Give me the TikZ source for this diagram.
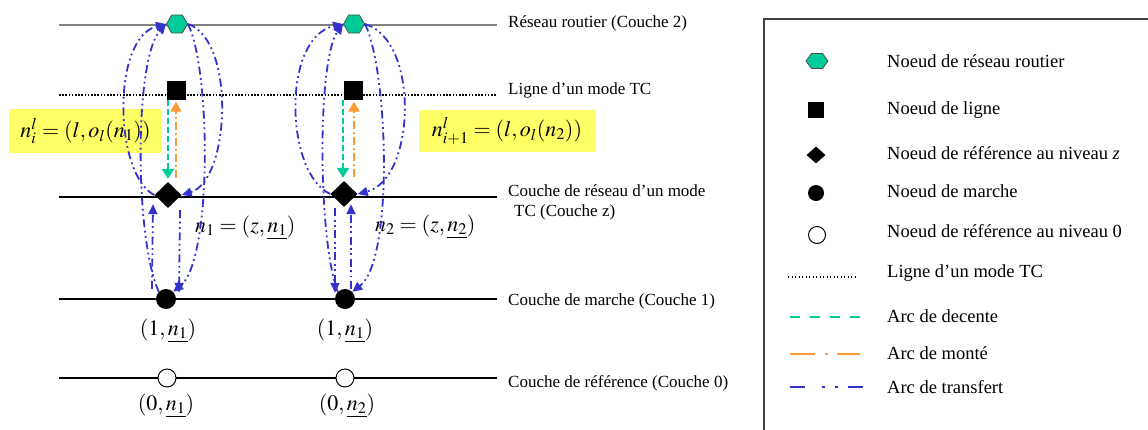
\documentclass[tikz,border=0pt]{standalone}
\usepackage{mathptmx}
\usepackage[no-math]{fontspec}
\setmainfont{Liberation Serif}
\usetikzlibrary{arrows.meta,shapes.geometric}
\definecolor{hexgreen}{RGB}{0,204,153}
\definecolor{tblue}{RGB}{51,51,204}
\definecolor{morange}{RGB}{255,153,51}
\definecolor{hlyellow}{RGB}{255,255,102}
\definecolor{roadgray}{RGB}{128,128,128}
\tikzset{
  layer/.style={line width=2pt,black},
  roadlayer/.style={line width=2pt,roadgray},
  tcline/.style={line width=1.6pt,black,dash pattern=on 1.6pt off 1.6pt},
  hexn/.style={regular polygon,regular polygon sides=6,minimum size=21pt,inner sep=0pt,fill=hexgreen,draw=black!70,line width=0.8pt},
  sqn/.style={rectangle,fill=black,minimum size=19pt,inner sep=0pt},
  dian/.style={diamond,fill=black,minimum width=27pt,minimum height=26pt,inner sep=0pt},
  walkn/.style={circle,fill=black,minimum size=20pt,inner sep=0pt},
  refn/.style={circle,draw=black,fill=white,line width=1pt,minimum size=18pt,inner sep=0pt},
  transfer/.style={tblue,line width=1.8pt,dash pattern=on 8pt off 3.5pt on 1.8pt off 3.5pt on 1.8pt off 3.5pt,-{Triangle[length=10pt,width=9pt]}},
  descent/.style={hexgreen,line width=2.2pt,dash pattern=on 6pt off 3pt,-{Triangle[length=10pt,width=12pt]}},
  ascent/.style={morange,line width=2.2pt,dash pattern=on 8pt off 3pt on 2pt off 3pt,-{Triangle[length=10pt,width=11pt]}},
  laylabel/.style={anchor=west,inner sep=0pt,font=\fontsize{17}{20.5}\selectfont,align=left},
  leglabel/.style={anchor=west,inner sep=0pt,font=\fontsize{18.5}{22}\selectfont},
  mathlabel/.style={inner sep=0pt,font=\fontsize{22}{26}\selectfont},
  hlbox/.style={fill=hlyellow,inner sep=0pt,font=\fontsize{22}{26}\selectfont}
}
\begin{document}
\begin{tikzpicture}[x=1pt,y=-1pt]
\useasboundingbox (0,0) rectangle (1148,429);
\fill[white] (0,0) rectangle (1148,429);
% layers
\draw[roadlayer] (59,25) -- (497,25);
\draw[tcline] (59,95) -- (497,95);
\draw[layer] (59,197) -- (497,197);
\draw[layer] (59,299) -- (497,299);
\draw[layer] (59,378) -- (497,378);
% layer labels
\node[laylabel] (t2) at (508,23) {Réseau routier (Couche 2)};
\node[laylabel] (ttc) at (508,90) {Ligne d’un mode TC};
\node[laylabel,anchor=north west] (tz) at (508,184) {Couche de réseau d’un mode\\\hspace*{6pt}TC (Couche z)};
\node[laylabel] (t1) at (508,301) {Couche de marche (Couche 1)};
\node[laylabel] (t0) at (508,383) {Couche de référence (Couche 0)};
% highlighted boxes
\node[hlbox,minimum width=153pt,minimum height=44pt] (b1) at (85.5,131) {$n_i^l=(l,o_l(n_1))$};
\node[hlbox,minimum width=176pt,minimum height=42pt] (b2) at (507,131) {$n_{i+1}^l=(l,o_l(n_2))$};
% nodes column 1
\node[hexn] (H1) at (177,24) {};
\node[sqn] (S1) at (176,90) {};
\node[dian] (D1) at (168,195) {};
\node[walkn] (M1) at (166,299) {};
\node[refn] (R1) at (167,378) {};
% nodes column 2
\node[hexn] (H2) at (354,24) {};
\node[sqn] (S2) at (353,90) {};
\node[dian] (D2) at (344,194) {};
\node[walkn] (M2) at (345,299) {};
\node[refn] (R2) at (345,378) {};
% node labels
\node[mathlabel,anchor=west] (z1) at (195,228) {$n_1=(z,\underline{n_1})$};
\node[mathlabel,anchor=west] (z2) at (375,227) {$n_2=(z,\underline{n_2})$};
\node[mathlabel] (w1) at (168,331) {$(1,\underline{n_1})$};
\node[mathlabel] (w2) at (345,331) {$(1,\underline{n_1})$};
\node[mathlabel] (r1) at (166,406) {$(0,\underline{n_1})$};
\node[mathlabel] (r2) at (347,406) {$(0,\underline{n_2})$};
% descent / ascent arcs
\draw[descent] ([xshift=-8pt]S1.south) -- ([yshift=3pt]D1.north);
\draw[ascent] ([xshift=8pt,yshift=4pt]D1.north) -- ([yshift=-2pt]S1.south);
\draw[descent] ([xshift=-10pt]S2.south) -- ([xshift=-1pt,yshift=3pt]D2.north);
\draw[ascent] ([xshift=10pt,yshift=4pt]D2.north) -- ([xshift=1pt,yshift=-2pt]S2.south);
% transfer arcs column 1
\draw[transfer] (D1.west) .. controls +(-40,-20) and +(-55,14) .. (H1.west);
\draw[transfer] (M1.north west) .. controls +(-24,-52) and +(-32,36) .. (H1.west);
\draw[transfer] (H1.east) .. controls +(48,16) and +(48.5,-15) .. (D1.east);
\draw[transfer] (H1.east) .. controls +(23,46) and +(39,-32) .. (M1.north east);
\draw[transfer] ([xshift=-14pt]M1.north) -- ([xshift=-15pt,yshift=4pt]D1.south);
\draw[transfer] ([xshift=12pt,yshift=-2pt]D1.south) -- ([xshift=13pt,yshift=-4pt]M1.north);
% transfer arcs column 2
\draw[transfer] (D2.west) .. controls +(-45,-20) and +(-62,14) .. (H2.west);
\draw[transfer] (M2.north west) .. controls +(-20,-52) and +(-26,36) .. (H2.west);
\draw[transfer] (H2.east) .. controls +(55,16) and +(58,-15) .. (D2.east);
\draw[transfer] (H2.east) .. controls +(23,46) and +(42,-32) .. (M2.north east);
\draw[transfer] ([xshift=-9pt,yshift=-1pt]D2.south) -- ([xshift=-10pt,yshift=-4pt]M2.north);
\draw[transfer] ([xshift=6pt]M2.north) -- ([xshift=7pt,yshift=3pt]D2.south);
% legend
\draw[line width=1.2pt,black!75] (764,440) -- (764,19) -- (1160,19);
\draw[fill=hexgreen,draw=black!70,line width=0.8pt] (806,61) -- (811.5,53.5) -- (822.5,53.5) -- (828,61) -- (822.5,68.5) -- (811.5,68.5) -- cycle;
\node[sqn,minimum size=16pt] (lsq) at (816,110) {};
\node[dian,minimum width=19pt,minimum height=17pt] (ldia) at (816,155) {};
\node[walkn,minimum size=16pt] (lwalk) at (816,193) {};
\node[refn,minimum size=17pt] (lref) at (817,235) {};
\draw[black,line width=1.3pt,dash pattern=on 1.3pt off 2.2pt] (788,277) -- (856,277);
\draw[hexgreen,line width=2.5pt,dash pattern=on 10pt off 10pt] (790,317) -- (863,317);
\draw[morange,line width=2.5pt,dash pattern=on 25pt off 10pt on 3pt off 9pt] (790,354) -- (860,354);
\draw[tblue,line width=2.5pt,dash pattern=on 15pt off 17pt on 2.5pt off 10.5pt on 2.5pt off 10.5pt] (790,387) -- (865,387);
\node[leglabel] (lg1) at (887,61) {Noeud de réseau routier};
\node[leglabel] (lg2) at (887,110) {Noeud de ligne};
\node[leglabel] (lg3) at (887,153) {Noeud de référence au niveau \textit{z}};
\node[leglabel] (lg4) at (887,191) {Noeud de marche};
\node[leglabel] (lg5) at (887,231) {Noeud de référence au niveau 0};
\node[leglabel] (lg6) at (887,273) {Ligne d’un mode TC};
\node[leglabel] (lg7) at (887,316) {Arc de decente};
\node[leglabel] (lg8) at (887,353) {Arc de monté};
\node[leglabel] (lg9) at (887,387) {Arc de transfert};
\end{tikzpicture}
\end{document}
